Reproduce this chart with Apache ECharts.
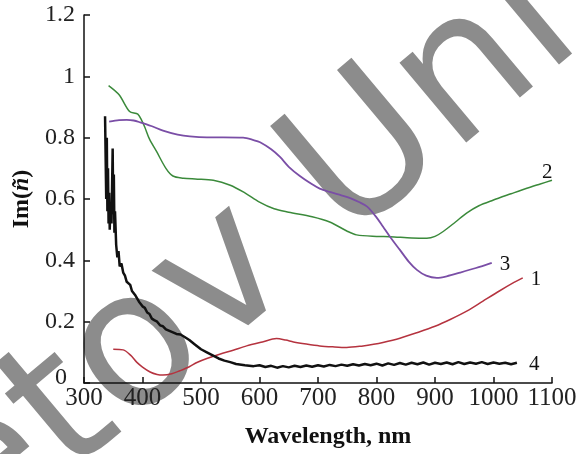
<!DOCTYPE html>
<html>
<head>
<meta charset="utf-8">
<script src="https://cdn.jsdelivr.net/npm/echarts@6/dist/echarts.min.js"></script>
<style>html,body{margin:0;padding:0;background:#fff}#c{width:582px;height:454px}</style>
</head>
<body>
<div id="c"></div>
<script>
// Curve 1 (red)
const wl1 = [350,367,380,390,400,413,425,435,450,464,480,493,510,532,555,578,605,629,645,658,680,703,725,749,777,795,811,840,869,900,926,955,982,1010,1035,1050];
const im1 = [0.110,0.108,0.090,0.068,0.052,0.036,0.028,0.026,0.030,0.040,0.053,0.067,0.080,0.094,0.107,0.121,0.134,0.145,0.140,0.134,0.127,0.121,0.118,0.116,0.121,0.126,0.132,0.146,0.164,0.185,0.207,0.235,0.267,0.300,0.328,0.343];
// Curve 2 (green)
const wl2 = [342,360,378,392,399,404,412,424,440,452,470,490,521,550,575,600,625,650,690,720,750,766,800,823,860,886,900,914,935,954,975,999,1030,1057,1080,1100];
const im2 = [0.970,0.940,0.885,0.877,0.855,0.834,0.795,0.755,0.700,0.675,0.668,0.665,0.661,0.645,0.620,0.590,0.568,0.557,0.542,0.525,0.495,0.483,0.478,0.477,0.473,0.472,0.478,0.494,0.525,0.554,0.578,0.596,0.617,0.635,0.649,0.661];
// Curve 3 (purple)
const wl3 = [343,360,373,385,396,415,435,460,481,510,538,572,590,601,620,635,650,669,690,703,720,740,755,770,784,800,811,823,840,855,869,885,903,920,943,970,997];
const im3 = [0.852,0.857,0.858,0.856,0.850,0.838,0.823,0.810,0.804,0.801,0.801,0.800,0.792,0.785,0.762,0.737,0.705,0.675,0.648,0.634,0.623,0.612,0.603,0.590,0.575,0.540,0.510,0.477,0.434,0.396,0.369,0.350,0.343,0.348,0.360,0.375,0.392];
// Curve 4 (black, noisy)
const wl4 = [336,338,339,340,341,342,343,344,345,347,349,350,351,352,353,355,357,359,361,364,367,370,373,376,379,382,385,388,391,394,397,400,404,408,412,416,420,425,430,435,440,446,452,458,465,472,480,490,500,510,520,530,540,550,560,575,590,600,610,620,630,640,650,660,670,680,690,700,710,720,730,740,750,760,770,780,790,800,810,820,830,840,850,860,870,880,890,900,910,920,930,940,950,960,970,980,990,1000,1010,1020,1030,1040];
const im4 = [0.870,0.600,0.800,0.560,0.700,0.520,0.620,0.500,0.580,0.520,0.765,0.550,0.680,0.490,0.560,0.450,0.410,0.430,0.380,0.390,0.360,0.350,0.330,0.335,0.320,0.300,0.305,0.285,0.280,0.265,0.268,0.250,0.245,0.230,0.225,0.210,0.205,0.200,0.188,0.185,0.175,0.170,0.165,0.160,0.158,0.150,0.140,0.125,0.110,0.100,0.090,0.080,0.073,0.068,0.062,0.058,0.055,0.058,0.052,0.056,0.050,0.055,0.051,0.056,0.052,0.057,0.053,0.058,0.054,0.059,0.055,0.060,0.056,0.061,0.057,0.062,0.058,0.063,0.057,0.064,0.059,0.065,0.060,0.066,0.061,0.067,0.060,0.066,0.062,0.067,0.061,0.068,0.062,0.067,0.063,0.068,0.062,0.067,0.063,0.066,0.061,0.066];

const curveLabels = ['1','2','3','4'];
const xTicks = [300,400,500,600,700,800,900,1000,1100];
const yTicks = [0,0.2,0.4,0.6,0.8,1,1.2];
const xName = 'Wavelength, nm';
const watermark = 'Letov Uni';

const pairs = (a,b) => a.map((v,i)=>[v,b[i]]);
const serif = 'Liberation Serif, Times New Roman, serif';

const chart = echarts.init(document.getElementById('c'), null, {renderer:'canvas'});
function mk(name, wl, im, color, width, smooth, off) {
  return {
    type:'line', name, data: pairs(wl, im), showSymbol:false, symbol:'none',
    smooth, lineStyle:{color, width}, itemStyle:{color}, z:3,
    endLabel:{show:true, formatter: name, color:'#111', fontFamily:serif, fontSize:21, offset:off, distance:6}
  };
}
chart.setOption({
  animation:false,
  backgroundColor:'#fff',
  grid:{left:84, right:30, top:15, bottom:70, containLabel:false},
  xAxis:{
    type:'value', min:300, max:1100, interval:100,
    name:xName, nameLocation:'middle', nameGap:42,
    nameTextStyle:{fontFamily:serif, fontWeight:'bold', fontSize:24, color:'#111', padding:[0,0,0,20]},
    axisLine:{lineStyle:{color:'#111', width:1.5}},
    axisTick:{inside:true, length:6, lineStyle:{color:'#111', width:1.5}},
    axisLabel:{fontFamily:serif, fontSize:25, color:'#222', margin:3, formatter:v=> xTicks.includes(v)? String(v):''},
    splitLine:{show:false}
  },
  yAxis:{
    type:'value', min:0, max:1.2, interval:0.2,
    name:'{a|Im(}{b|ñ}{a|)}', nameLocation:'middle', nameGap:49, nameRotate:90,
    nameTextStyle:{rich:{a:{fontFamily:serif, fontWeight:'bold', fontSize:24, color:'#111'}, b:{fontFamily:serif, fontWeight:'bold', fontStyle:'italic', fontSize:24, color:'#111'}}},
    axisLine:{show:true, lineStyle:{color:'#111', width:1.5}},
    axisTick:{show:true, inside:true, length:6, lineStyle:{color:'#111', width:1.5}},
    axisLabel:{fontFamily:serif, fontSize:24, color:'#222', margin:9,
      formatter:v=>{ const t = yTicks.find(k=>Math.abs(k-v)<1e-6); if(t===undefined) return ''; if(t===0) return '{z|0}'; return t===1?'1':t.toFixed(1); },
      rich:{z:{fontFamily:serif, fontSize:24, color:'#222', padding:[0,8,10,0]}}},
    splitLine:{show:false}
  },
  graphic:{elements:[{
    type:'text', z:-10, x:211, y:292, rotation:0.698,
    style:{text:watermark, fontFamily:'DejaVu Sans, sans-serif', fontSize:190, fill:'#8c8c8c', stroke:'#fff', lineWidth:3, align:'center', verticalAlign:'middle'}
  }]},
  series:[
    mk(curveLabels[0], wl1, im1, '#b5333f', 1.5, 0.3, [2,2]),
    mk(curveLabels[1], wl2, im2, '#3b8a3b', 1.5, 0.3, [-16,-8]),
    mk(curveLabels[2], wl3, im3, '#7a4ea6', 1.8, 0.3, [2,2]),
    mk(curveLabels[3], wl4, im4, '#111111', 2.5, false, [6,2])
  ]
});
</script>
</body>
</html>
